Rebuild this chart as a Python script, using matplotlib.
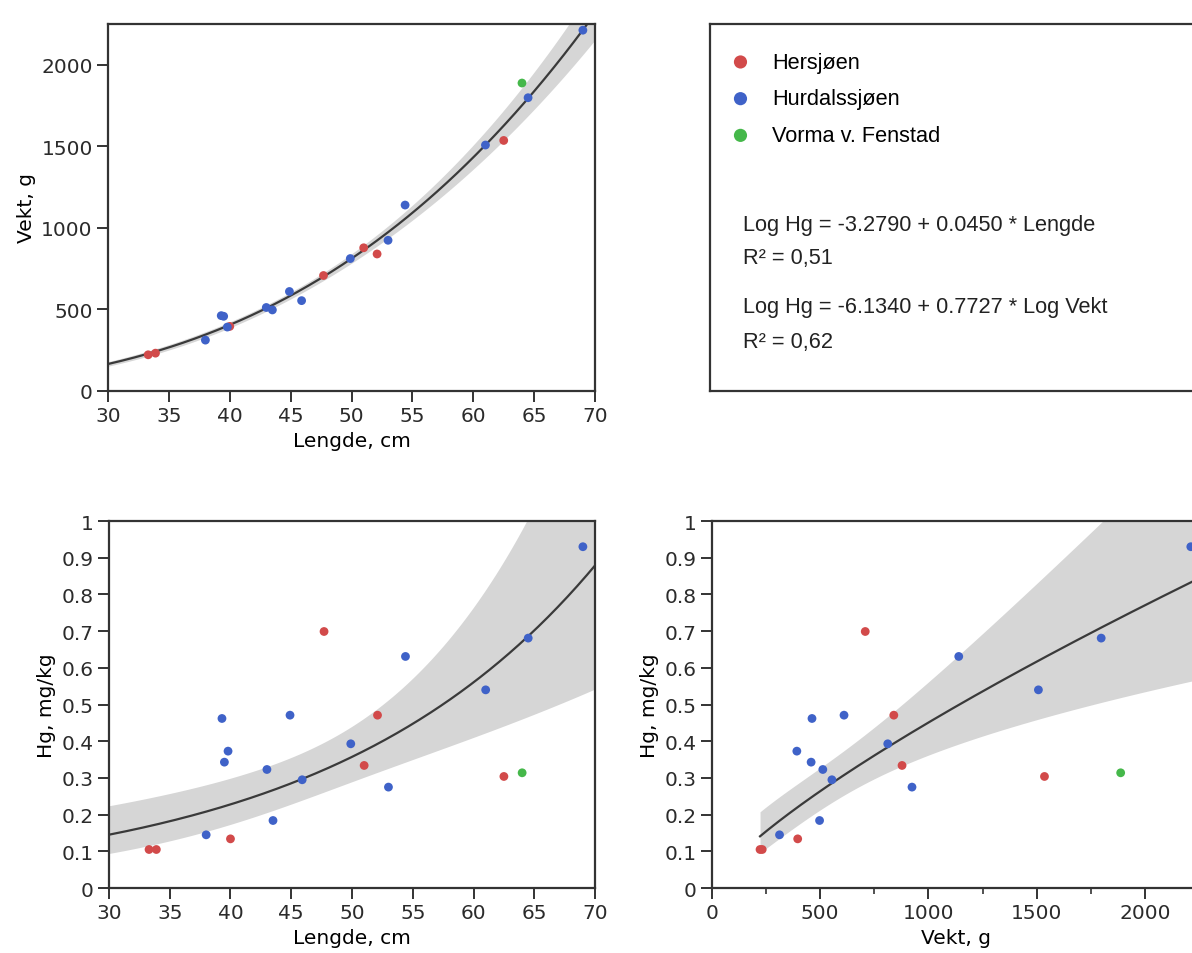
import numpy as np
import matplotlib
matplotlib.use("Agg")
import matplotlib.pyplot as plt
from matplotlib.ticker import MultipleLocator, FormatStrFormatter

lengde = [33.3, 33.9, 38.0, 39.3, 39.5, 39.8, 40.0, 43.0, 43.5, 44.9, 45.9,
          47.7, 49.9, 51.0, 52.1, 53.0, 54.4, 61.0, 62.5, 64.0, 64.5, 69.0]
vekt = [222, 232, 312, 462, 458, 392, 396, 512, 497, 610, 554,
        708, 812, 878, 840, 924, 1140, 1508, 1536, 1888, 1798, 2212]
hg = [0.105, 0.105, 0.145, 0.462, 0.343, 0.373, 0.134, 0.323, 0.184, 0.471, 0.295,
      0.699, 0.393, 0.334, 0.471, 0.275, 0.631, 0.540, 0.304, 0.314, 0.681, 0.930]
site = ["Hersjøen", "Hersjøen", "Hurdalssjøen", "Hurdalssjøen", "Hurdalssjøen",
        "Hurdalssjøen", "Hersjøen", "Hurdalssjøen", "Hurdalssjøen", "Hurdalssjøen",
        "Hurdalssjøen", "Hersjøen", "Hurdalssjøen", "Hersjøen", "Hersjøen",
        "Hurdalssjøen", "Hurdalssjøen", "Hurdalssjøen", "Hersjøen",
        "Vorma v. Fenstad", "Hurdalssjøen", "Hurdalssjøen"]

sites = ["Hersjøen", "Hurdalssjøen", "Vorma v. Fenstad"]
site_colors = ["#d24a4a", "#3f62c8", "#45b84a"]

# regression coefficients as printed in the chart (natural log)
hg_lengde_coef = (-3.2790, 0.0450)
hg_vekt_coef = (-6.1340, 0.7727)
equations = [
    "Log Hg = -3.2790 + 0.0450 * Lengde",
    "R² = 0,51",
    "Log Hg = -6.1340 + 0.7727 * Log Vekt",
    "R² = 0,62",
]

T_CRIT = 2.086  # t(0.975, df=20)

LINE = "#3a3a3a"
BAND = "#d6d6d6"
SPINE = "#333333"

plt.rcParams["font.family"] = ["DejaVu Sans"]
plt.rcParams["font.size"] = 14.5


def mean_band(x, y, a, b, xs):
    x = np.asarray(x, float)
    y = np.asarray(y, float)
    n = len(x)
    resid = y - (a + b * x)
    s = np.sqrt(np.sum(resid ** 2) / (n - 2))
    sxx = np.sum((x - x.mean()) ** 2)
    se = s * np.sqrt(1.0 / n + (xs - x.mean()) ** 2 / sxx)
    fit = a + b * xs
    return fit, fit - T_CRIT * se, fit + T_CRIT * se


def style_axes(ax):
    for spine in ax.spines.values():
        spine.set_linewidth(1.6)
        spine.set_color(SPINE)
    ax.tick_params(direction="out", length=8, width=1.4, color=SPINE,
                   labelcolor="#2b2b2b", labelsize=14.5, pad=3)
    ax.tick_params(which="minor", direction="out", length=4, width=1.2, color=SPINE)


def scatter_sites(ax, xs, ys):
    handles = []
    for name, color in zip(sites, site_colors):
        idx = [i for i, s in enumerate(site) if s == name]
        h = ax.scatter([xs[i] for i in idx], [ys[i] for i in idx], s=40,
                       color=color, edgecolors="none", zorder=3, label=name)
        handles.append(h)
    return handles


def main():
    fig = plt.figure(figsize=(11.92, 9.54), dpi=100)

    ax_w = fig.add_axes([0.0906, 0.5891, 0.4086, 0.3847])
    ax_leg = fig.add_axes([0.5956, 0.5891, 0.42, 0.3847])
    ax_l = fig.add_axes([0.0914, 0.0681, 0.4078, 0.3847])
    ax_v = fig.add_axes([0.5973, 0.0681, 0.4086, 0.3847])

    # Vekt vs Lengde, power fit in log-log space
    ln_l = np.log(lengde)
    ln_w = np.log(vekt)
    b_w, a_w = np.polyfit(ln_l, ln_w, 1)
    xs = np.linspace(30, 70, 300)
    fit, lo, hi = mean_band(ln_l, ln_w, a_w, b_w, np.log(xs))
    ax_w.fill_between(xs, np.exp(lo), np.exp(hi), color=BAND, lw=0, zorder=1)
    ax_w.plot(xs, np.exp(fit), color=LINE, lw=1.6, zorder=2)
    handles = scatter_sites(ax_w, lengde, vekt)
    ax_w.set_xlim(30, 70)
    ax_w.set_ylim(0, 2250)
    ax_w.xaxis.set_major_locator(MultipleLocator(5))
    ax_w.yaxis.set_major_locator(MultipleLocator(500))
    ax_w.set_xlabel("Lengde, cm")
    ax_w.set_ylabel("Vekt, g")
    style_axes(ax_w)

    # Hg vs Lengde
    a, b = hg_lengde_coef
    fit, lo, hi = mean_band(lengde, np.log(hg), a, b, xs)
    ax_l.fill_between(xs, np.exp(lo), np.exp(hi), color=BAND, lw=0, zorder=1)
    ax_l.plot(xs, np.exp(fit), color=LINE, lw=1.6, zorder=2)
    scatter_sites(ax_l, lengde, hg)
    ax_l.set_xlim(30, 70)
    ax_l.set_ylim(0, 1)
    ax_l.xaxis.set_major_locator(MultipleLocator(5))
    ax_l.yaxis.set_major_locator(MultipleLocator(0.1))
    ax_l.yaxis.set_major_formatter(FormatStrFormatter("%g"))
    ax_l.set_xlabel("Lengde, cm")
    ax_l.set_ylabel("Hg, mg/kg")
    style_axes(ax_l)

    # Hg vs Vekt
    a, b = hg_vekt_coef
    ws = np.linspace(min(vekt), 2250, 300)
    fit, lo, hi = mean_band(np.log(vekt), np.log(hg), a, b, np.log(ws))
    ax_v.fill_between(ws, np.exp(lo), np.exp(hi), color=BAND, lw=0, zorder=1)
    ax_v.plot(ws, np.exp(fit), color=LINE, lw=1.6, zorder=2)
    scatter_sites(ax_v, vekt, hg)
    ax_v.set_xlim(0, 2250)
    ax_v.set_ylim(0, 1)
    ax_v.xaxis.set_major_locator(MultipleLocator(500))
    ax_v.xaxis.set_minor_locator(MultipleLocator(250))
    ax_v.yaxis.set_major_locator(MultipleLocator(0.1))
    ax_v.yaxis.set_major_formatter(FormatStrFormatter("%g"))
    ax_v.set_xlabel("Vekt, g")
    ax_v.set_ylabel("Hg, mg/kg")
    style_axes(ax_v)

    # legend / equation panel
    ax_leg.set_xticks([])
    ax_leg.set_yticks([])
    for spine in ax_leg.spines.values():
        spine.set_linewidth(1.6)
        spine.set_color(SPINE)
    ax_leg.legend(handles, sites, loc="upper left", bbox_to_anchor=(0, 0.978),
                  frameon=False, handlelength=1.0, handletextpad=0.94,
                  labelspacing=0.72, scatterpoints=1, markerscale=1.5,
                  prop={"family": "Liberation Sans", "size": 15.7})
    eq_y = [0.455, 0.365, 0.229, 0.136]
    for text, y in zip(equations, eq_y):
        ax_leg.text(0.066, y, text, transform=ax_leg.transAxes, va="center",
                    ha="left", fontsize=15.7, family="Liberation Sans", color="#222222")

    fig.savefig("out.png", dpi=100)
    plt.close(fig)


if __name__ == "__main__":
    main()
